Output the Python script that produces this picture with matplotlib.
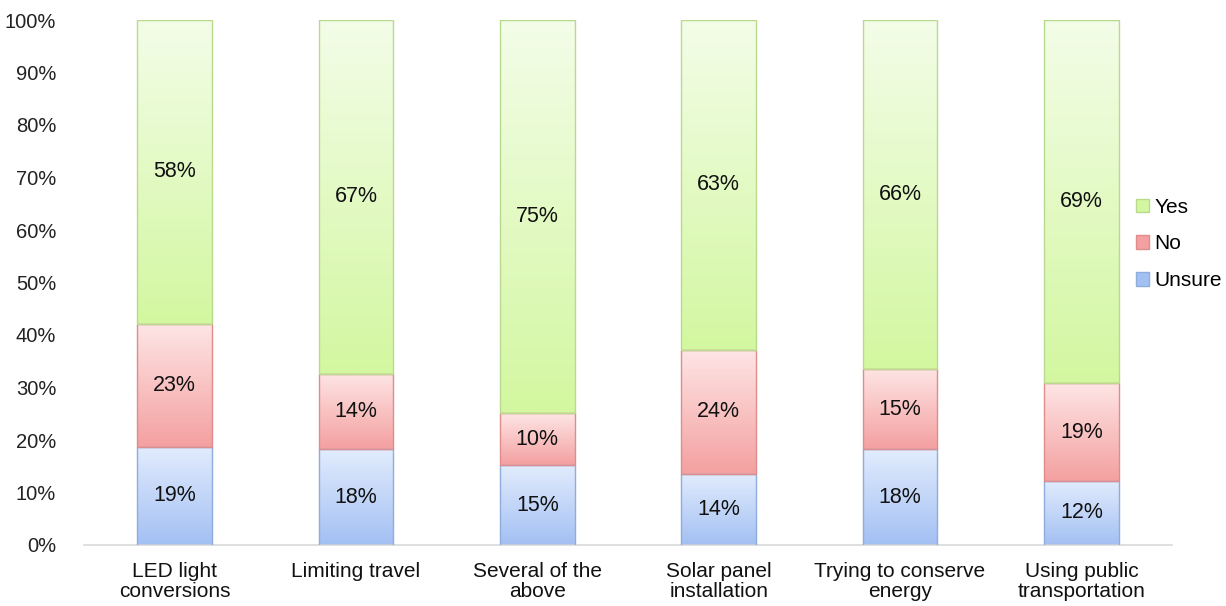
import numpy as np
import matplotlib
matplotlib.use("Agg")
import matplotlib.pyplot as plt
from matplotlib.colors import LinearSegmentedColormap
from matplotlib.patches import Patch

plt.rcParams['font.family'] = ['Liberation Sans', 'DejaVu Sans']

categories = ["LED light\nconversions", "Limiting travel", "Several of the\nabove",
              "Solar panel\ninstallation", "Trying to conserve\nenergy", "Using public\ntransportation"]
unsure = [18.7, 18.2, 15.2, 13.6, 18.2, 12.2]
no = [23.4, 14.4, 9.9, 23.6, 15.4, 18.6]
yes = [57.9, 67.4, 74.9, 62.8, 66.4, 69.2]
series_names = ["Unsure", "No", "Yes"]

grad = {
    "Unsure": ("#e2ecfd", "#a3c0f3", "#8eacdc"),
    "No": ("#fee5e5", "#f4a0a0", "#de8c8c"),
    "Yes": ("#f3fde8", "#d3f7a0", "#b9d98f"),
}

fig = plt.figure(figsize=(12.26, 6.06), dpi=100)
ax = fig.add_axes([84/1226, 1-545/606, (1172-84)/1226, (545-20)/606])

x = np.arange(len(categories))
width = 0.41
bottom = np.zeros(len(categories))
for name, vals in zip(series_names, [unsure, no, yes]):
    top_c, bot_c, edge = grad[name]
    cmap = LinearSegmentedColormap.from_list(name, [bot_c, top_c])
    bars = ax.bar(x, vals, width, bottom=bottom, facecolor='none', edgecolor=edge,
                  linewidth=1.0, zorder=3)
    for b, v, btm in zip(bars, vals, bottom):
        x0 = b.get_x()
        g = np.linspace(0, 1, 256).reshape(-1, 1)
        im = ax.imshow(g, cmap=cmap, origin='lower', aspect='auto',
                       extent=[x0, x0 + b.get_width(), btm, btm + v], zorder=2,
                       interpolation='bilinear')
        im.set_clip_path(b)
        ax.text(x0 + b.get_width()/2, btm + v/2, f"{round(v)}%", ha='center', va='center',
                fontsize=15.5, color='#111111', zorder=4)
    bottom = bottom + np.array(vals)

ax.set_xlim(-0.5, len(categories) - 0.5)
ax.set_ylim(0, 100)
ax.set_yticks(np.arange(0, 101, 10))
ax.set_yticklabels([f"{t}%" for t in range(0, 101, 10)], fontsize=14.5, color='#222222')
ax.set_xticks(x)
ax.set_xticklabels(categories, fontsize=15, color='#111111', linespacing=1.12)
ax.tick_params(axis='y', length=0, pad=20)
ax.tick_params(axis='x', length=0, pad=12)
for s in ['left', 'right', 'top']:
    ax.spines[s].set_visible(False)
ax.spines['bottom'].set_color('#d9d9d9')
ax.spines['bottom'].set_linewidth(1.2)

handles = [Patch(facecolor=grad[n][1], edgecolor=grad[n][2], label=n) for n in ["Yes", "No", "Unsure"]]
fig.legend(handles=handles, loc='center left', bbox_to_anchor=(1136/1226, 1-244/606),
           frameon=False, fontsize=15, handlelength=0.62, handleheight=0.62,
           handletextpad=0.25, labelspacing=0.85, borderaxespad=0, borderpad=0)

fig.savefig("out.png", dpi=100)
